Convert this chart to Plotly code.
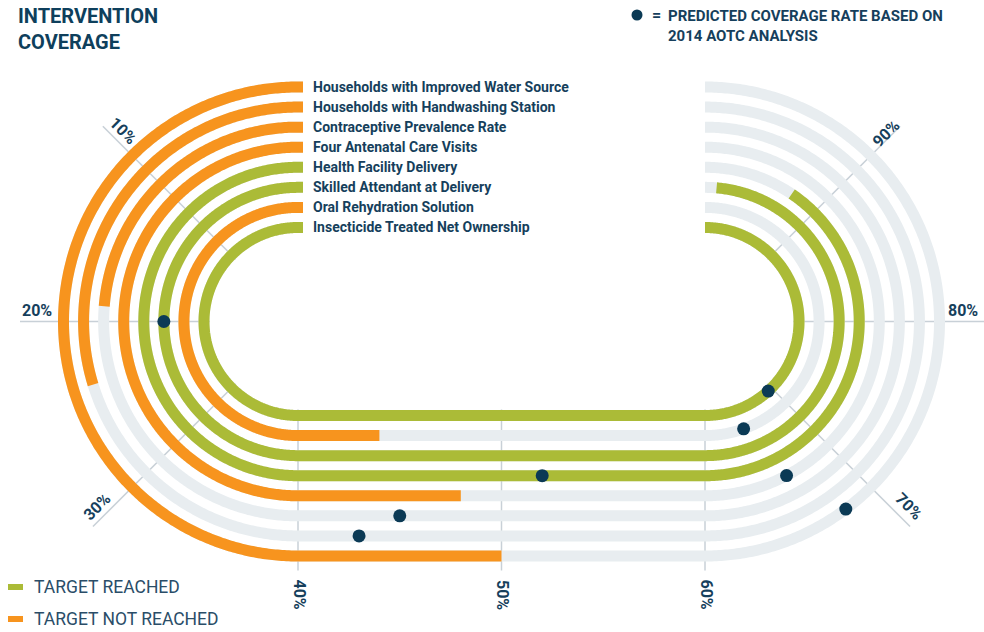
import numpy as np
import plotly.graph_objects as go

# ---------------- data ----------------
categories = [
    "Households with Improved Water Source",
    "Households with Handwashing Station",
    "Contraceptive Prevalence Rate",
    "Four Antenatal Care Visits",
    "Health Facility Delivery",
    "Skilled Attendant at Delivery",
    "Oral Rehydration Solution",
    "Insecticide Treated Net Ownership",
]
coverage = [50, 23.8, 19, 48, 92.4, 98.9, 44, 100]      # % actual coverage
predicted = [68.2, 43, 45, 66.2, 52, 20, 64.4, 69.4]    # % predicted (2014 AOTC)
tick_values = [10, 20, 30, 40, 50, 60, 70, 80, 90]
tick_labels = ["10%", "20%", "30%", "40%", "50%", "60%", "70%", "80%", "90%"]

# ---------------- style / geometry ----------------
W, H = 984, 632
CLX, CRX, CY = 298, 705, 321.5
R_OUT, STEP = 234.5, 20.07
LW = 11
ORANGE = "#f7941e"
GREEN = "#abbb37"
GREY = "#e8edf0"
GRID = "#c8d0d7"
NAVY = "#0b3a55"
TXT = "#163f5c"
FONT = "Roboto, sans-serif"


def pos(p, r):
    p = np.atleast_1d(np.asarray(p, float))
    x = np.empty_like(p)
    y = np.empty_like(p)
    m1 = p <= 40
    th = np.radians(90 + p[m1] / 40 * 180)
    x[m1] = CLX + r * np.cos(th)
    y[m1] = CY - r * np.sin(th)
    m2 = (p > 40) & (p < 60)
    x[m2] = CLX + (p[m2] - 40) / 20 * (CRX - CLX)
    y[m2] = CY + r
    m3 = p >= 60
    th = np.radians(-90 + (p[m3] - 60) / 40 * 180)
    x[m3] = CRX + r * np.cos(th)
    y[m3] = CY - r * np.sin(th)
    return x, y


def path(p_end, r, stub=True):
    ps = np.linspace(0, p_end, max(2, int(p_end * 8) + 1))
    x, y = pos(ps, r)
    if stub:
        x = np.concatenate([[CLX + 5], x])
        y = np.concatenate([[CY - r], y])
    return x, y


def line(color, width):
    return dict(color=color, width=width, simplify=False)


def paper(px, py):
    return dict(xref="paper", yref="paper", x=px / W, y=1 - py / H)


fig = go.Figure()

# ---- grid lines ----
R_IN = 88
grid_len = {10: 276, 20: 278, 30: 290, 70: 290, 80: 285, 90: 276}
lab_back = {10: 17, 20: 17, 30: 17, 70: 15, 80: 27, 90: 15}
lab_perp = {10: 11, 20: 11, 30: 11, 70: 14, 80: 11, 90: 5}
annotations = []
for v, lab in zip(tick_values, tick_labels):
    if v in (40, 50, 60):
        gx = pos(v, 0)[0][0]
        fig.add_trace(go.Scatter(x=[gx, gx], y=[CY + R_IN, CY + 249], mode="lines",
                                 line=line(GRID, 1.5), hoverinfo="skip"))
        annotations.append(dict(x=gx + 1, y=CY + 249 + 24, text=lab, textangle=90,
                                showarrow=False, xanchor="center", yanchor="middle",
                                font=dict(family=FONT, size=16, color=TXT, weight="bold")))
    else:
        cx = CLX if v < 50 else CRX
        x1, y1 = pos(v, 1.0)
        dx, dy = x1[0] - cx, y1[0] - CY
        L = grid_len[v]
        fig.add_trace(go.Scatter(x=[cx + dx * R_IN, cx + dx * L], y=[CY + dy * R_IN, CY + dy * L],
                                 mode="lines", line=line(GRID, 1.5), hoverinfo="skip"))
        px, py = -dy, dx
        if py > 0:
            px, py = -px, -py
        if abs(py) < 1e-9:
            px, py = 0, -1
        ang = np.degrees(np.arctan2(dy, dx))
        if ang > 90:
            ang -= 180
        if ang <= -90:
            ang += 180
        lx = cx + dx * (L - lab_back[v]) + px * lab_perp[v]
        ly = CY + dy * (L - lab_back[v]) + py * lab_perp[v]
        annotations.append(dict(x=lx, y=ly, text=lab, textangle=ang, showarrow=False,
                                xanchor="center", yanchor="middle",
                                font=dict(family=FONT, size=16, color=TXT, weight="bold")))

# ---- tracks ----
for i, (cat, val, pr) in enumerate(zip(categories, coverage, predicted)):
    r = R_OUT - STEP * i
    gx, gy = path(100, r)
    fig.add_trace(go.Scatter(x=gx, y=gy, mode="lines", line=line(GREY, LW), hoverinfo="skip"))
    col = GREEN if val >= pr else ORANGE
    cx_, cy_ = path(val, r)
    fig.add_trace(go.Scatter(x=cx_, y=cy_, mode="lines", line=line(col, LW),
                             name=cat, hoverinfo="name"))
    annotations.append(dict(x=311, y=CY - r, text=cat, showarrow=False, xanchor="left",
                            yanchor="middle",
                            font=dict(family=FONT, size=14, color=TXT, weight="bold")))

# ---- predicted dots ----
dx_, dy_ = [], []
for i, pr in enumerate(predicted):
    r = R_OUT - STEP * i
    x, y = pos(pr, r)
    dx_.append(x[0])
    dy_.append(y[0])
fig.add_trace(go.Scatter(x=dx_, y=dy_, mode="markers",
                         marker=dict(color=NAVY, size=13), hoverinfo="skip"))

# ---- legend: dot ----
fig.add_trace(go.Scatter(x=[637], y=[15], mode="markers", marker=dict(color=NAVY, size=11),
                         hoverinfo="skip"))
annotations.append(dict(**paper(650, 15), text="=", showarrow=False, xanchor="left",
                        yanchor="middle",
                        font=dict(family=FONT, size=16, color=TXT, weight="bold")))
annotations.append(dict(**paper(666, 5), text="PREDICTED COVERAGE RATE BASED ON<br>2014 AOTC ANALYSIS",
                        showarrow=False, xanchor="left", yanchor="top", align="left",
                        font=dict(family=FONT, size=15, color=TXT, weight="bold")))

# ---- legend: reached / not reached ----
for yy, col, lab in [(587, GREEN, "TARGET REACHED"), (619, ORANGE, "TARGET NOT REACHED")]:
    fig.add_trace(go.Scatter(x=[8, 23], y=[yy, yy], mode="lines", line=line(col, 6),
                             hoverinfo="skip"))
    annotations.append(dict(**paper(32, yy), text=lab, showarrow=False, xanchor="left",
                            yanchor="middle",
                            font=dict(family=FONT, size=17.5, color="#2a4d68")))

# ---- title ----
annotations.append(dict(**paper(16, 2), text="INTERVENTION<br>COVERAGE", showarrow=False,
                        xanchor="left", yanchor="top", align="left",
                        font=dict(family=FONT, size=20, color="#0e3f5c", weight="bold")))

fig.update_layout(
    width=W, height=H, margin=dict(l=0, r=0, t=0, b=0),
    paper_bgcolor="white", plot_bgcolor="white", showlegend=False,
    xaxis=dict(range=[0, W], visible=False, fixedrange=True),
    yaxis=dict(range=[H, 0], visible=False, fixedrange=True),
    annotations=annotations,
)
fig.write_html("out.html", config={"displayModeBar": False},
               post_script="document.body.style.margin='0px';document.body.style.overflow='hidden';")
